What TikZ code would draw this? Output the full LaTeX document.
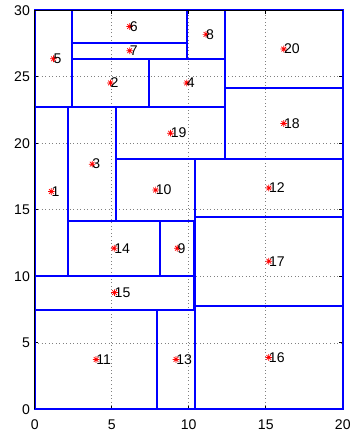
\documentclass[tikz,border=0pt]{standalone}
\usepackage{fontspec}
\setmainfont{Liberation Sans}
\usepackage{xcolor}
\usepackage{tikz}
\usetikzlibrary{positioning}
\definecolor{cellblue}{RGB}{0,0,255}
\definecolor{dotred}{RGB}{255,0,0}
\definecolor{ink}{RGB}{0,0,0}
\definecolor{rule}{RGB}{128,128,128}

\begin{document}
\begin{tikzpicture}[x=0.462cm,y=0.399cm,
  cell/.style={draw=cellblue,line width=1.7pt},
  gridline/.style={draw=rule,line width=0.5pt,dash pattern=on 0.6pt off 2.4pt},
  axisline/.style={draw=ink,line width=0.6pt},
  ticklabel/.style={font=\fontsize{12}{14}\selectfont,text=ink,inner sep=0pt},
  tag/.style={font=\fontsize{12}{14}\selectfont,text=ink,anchor=west,inner sep=0pt}]
  \useasboundingbox (-2.253,-1.78) rectangle (20.60,30.77);
  % grid
  \foreach \gx in {5,10,15} \draw[gridline] (\gx,0) -- (\gx,30);
  \foreach \gy in {5,10,...,25} \draw[gridline] (0,\gy) -- (20,\gy);
  % axes box and ticks
  \draw[axisline] (0,0) rectangle (20,30);
  \foreach \tx in {5,10,15} {
    \draw[axisline] (\tx,0) -- ++(0,0.1cm);
    \draw[axisline] (\tx,30) -- ++(0,-0.1cm);
  }
  \foreach \ty in {5,10,...,25} {
    \draw[axisline] (0,\ty) -- ++(0.1cm,0);
    \draw[axisline] (20,\ty) -- ++(-0.1cm,0);
  }
  \foreach \tx in {0,5,...,20}
    \node[ticklabel] (xl\tx) at (\tx,-1.13) {\tx};
  \foreach \ty in {0,5,...,30}
    \node[ticklabel,anchor=east] (yl\ty) at (-0.3,\ty) {\ty};
  % cells (x1/y1/x2/y2/number), with their centres
  \foreach \xa/\ya/\xb/\yb/\n in {
      0/10.05/2.16/22.7/1, 2.44/22.7/7.40/26.37/2, 2.16/14.16/5.30/22.7/3,
      7.40/22.7/12.34/26.37/4, 0/22.7/2.44/30/5, 2.44/27.55/9.89/30/6,
      2.44/26.37/9.89/27.55/7, 9.89/26.37/12.34/30/8, 8.16/10.05/10.36/14.16/9,
      5.30/14.16/10.40/18.82/10, 0/0/7.97/7.5/11, 10.40/14.46/20/18.82/12,
      7.97/0/10.38/7.5/13, 2.16/10.05/8.16/14.16/14, 0/7.5/10.36/10.05/15,
      10.39/0/20/7.8/16, 10.40/7.8/20/14.46/17, 12.34/18.82/20/24.16/18,
      5.30/18.82/12.34/22.7/19, 12.34/24.16/20/30/20}
    \draw[cell] (\xa,\ya) rectangle (\xb,\yb);
  \foreach \xa/\ya/\xb/\yb/\n in {
      0/10.05/2.16/22.7/1, 2.44/22.7/7.40/26.37/2, 2.16/14.16/5.30/22.7/3,
      7.40/22.7/12.34/26.37/4, 0/22.7/2.44/30/5, 2.44/27.55/9.89/30/6,
      2.44/26.37/9.89/27.55/7, 9.89/26.37/12.34/30/8, 8.16/10.05/10.36/14.16/9,
      5.30/14.16/10.40/18.82/10, 0/0/7.97/7.5/11, 10.40/14.46/20/18.82/12,
      7.97/0/10.38/7.5/13, 2.16/10.05/8.16/14.16/14, 0/7.5/10.36/10.05/15,
      10.39/0/20/7.8/16, 10.40/7.8/20/14.46/17, 12.34/18.82/20/24.16/18,
      5.30/18.82/12.34/22.7/19, 12.34/24.16/20/30/20} {
    \coordinate (c\n) at ({(\xa+\xb)/2},{(\ya+\yb)/2});
    \draw[dotred,line width=0.6pt]
      (c\n) +(-0.1cm,0) -- +(0.1cm,0)
      (c\n) +(0,-0.1cm) -- +(0,0.1cm)
      (c\n) +(-0.07cm,-0.07cm) -- +(0.07cm,0.07cm)
      (c\n) +(-0.07cm,0.07cm) -- +(0.07cm,-0.07cm);
    \node[tag] (t\n) at (c\n) {\n};
  }
  % axes on top
  \draw[axisline] (0,0) -- (0,30) -- (20,30);
\end{tikzpicture}
\end{document}
